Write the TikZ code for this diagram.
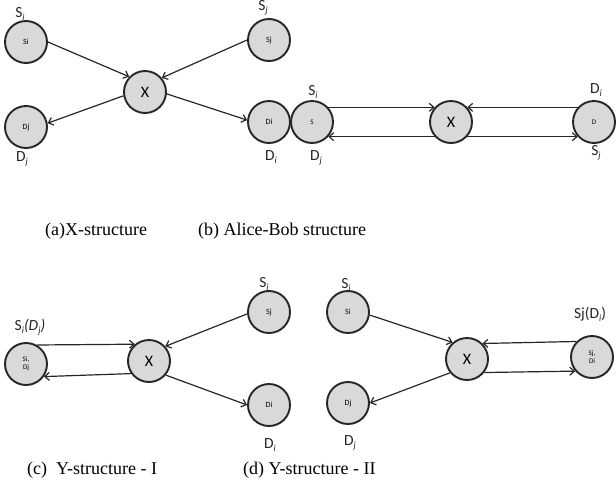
\documentclass[tikz,border=0pt]{standalone}
\usepackage{fontspec}
\setmainfont{Liberation Serif}
\setsansfont{Carlito}
\usetikzlibrary{arrows.meta}
\newcommand\sbx[1]{\raisebox{-0.4ex}{\fontsize{9.5}{9.5}\selectfont\itshape #1}}
\begin{document}
\begin{tikzpicture}[x=1pt,y=-1pt,
  nd/.style={circle,draw=black!85,fill=black!15,line width=1.9pt,minimum size=42pt,inner sep=0pt,align=center,font=\sffamily\fontsize{8}{9}\selectfont},
  xn/.style={nd,font=\sffamily\fontsize{16}{16}\selectfont},
  sm/.style={nd,font=\sffamily\fontsize{7}{8}\selectfont},
  lbl/.style={font=\sffamily\fontsize{15.5}{15.5}\selectfont,inner sep=0pt,text=black!85},
  captxt/.style={font=\fontsize{18}{18}\selectfont,anchor=west,inner sep=0pt},
  ar/.style={-{Straight Barb[length=4.5pt,width=8pt]},line width=1.2pt,draw=black!85}]
\useasboundingbox (0,0) rectangle (616,496);
% (a)
\node[nd] (ai) at (26,42) {Si};
\node[nd] (aj) at (269,40) {Sj};
\node[xn] (ax) at (145,92) {X};
\node[nd] (adj) at (26,127) {Dj};
\node[nd] (adi) at (269,122) {Di};
\node[lbl] (lai) at (20,14) {S\sbx{i}};
\node[lbl] (laj) at (263,8) {S\sbx{j}};
\node[lbl] (ladj) at (22,159) {D\sbx{j}};
\node[lbl] (ladi) at (271,157) {D\sbx{i}};
\draw[ar] (ai.east) -- (ax.136);
\draw[ar] (aj.west) -- (ax.40);
\draw[ar] (ax.190) -- (adj.10);
\draw[ar] (ax.-5) -- (adi.175);
% (b)
\node[sm] (bs) at (312,122) {S};
\node[xn] (bx) at (451,122) {X};
\node[sm] (bd) at (594,122) {D};
\node[lbl] (lbs) at (313,92) {S\sbx{i}};
\node[lbl] (lbdj) at (316,158) {D\sbx{j}};
\node[lbl] (lbdi) at (596,90) {D\sbx{i}};
\node[lbl] (lbsj) at (596,153) {S\sbx{j}};
\draw[ar] (bs.42) -- (bx.138);
\draw[ar] (bx.-138) -- (bs.-42);
\draw[ar] (bd.138) -- (bx.42);
\draw[ar] (bx.-42) -- (bd.-138);
\node[captxt] (capa) at (45,231) {(a)X-structure};
\node[captxt] (capb) at (198,231) {(b) Alice-Bob structure};
% (c)
\node[sm] (cs) at (26,364) {Si,\\Dj};
\node[xn] (cx) at (149,361) {X};
\node[nd] (csj) at (269,312) {Sj};
\node[nd] (cdi) at (269,405) {Di};
\node[lbl] (lcs) at (30,327) {S\sbx{i}\textit{(D\sbx{j})}};
\node[lbl] (lcsj) at (264,285) {S\sbx{j}};
\node[lbl] (lcdi) at (270,445) {D\sbx{i}};
\draw[ar] (cs.60) -- (cx.130);
\draw[ar] (cx.-145) -- (cs.-35);
\draw[ar] (csj.185) -- (cx.42);
\draw[ar] (cx.-40) -- (cdi.180);
% (d)
\node[nd] (dsi) at (348,312) {Si};
\node[xn] (dx) at (467,359) {X};
\node[sm] (dsd) at (592,357) {Sj,\\Di};
\node[nd] (ddj) at (348,403) {Dj};
\node[lbl] (ldsi) at (346,285) {S\sbx{i}};
\node[lbl] (ldsd) at (590,314) {Sj(D\sbx{i})};
\node[lbl] (lddj) at (350,443) {D\sbx{j}};
\draw[ar] (dsi.-8) -- (dx.131);
\draw[ar] (dx.-141) -- (ddj.east);
\draw[ar] (dsd.135) -- (dx.45);
\draw[ar] (dx.-38) -- (dsd.-140);
\node[captxt] (capc) at (27,470) {(c)~~Y-structure - I};
\node[captxt] (capd) at (243,470) {(d) Y-structure - II};
\end{tikzpicture}
\end{document}
